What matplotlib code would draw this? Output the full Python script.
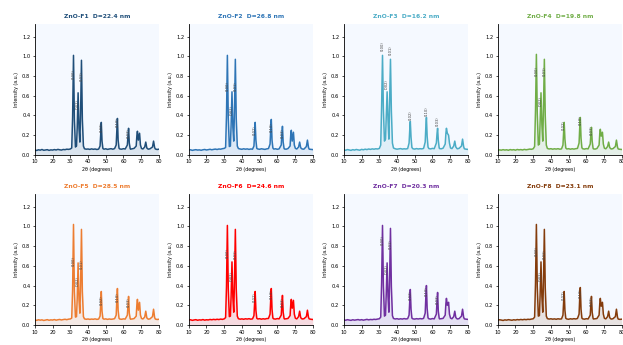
import matplotlib
matplotlib.use('Agg')
import matplotlib.pyplot as plt

# 2theta grid shared by all samples (degrees)
two_theta = [10, 11, 12, 13, 14, 15, 16, 17, 18, 19, 20, 21, 22, 23, 24, 25, 26, 27, 28, 29, 30,
             30.8, 31.3, 31.8, 32.3, 32.9, 33.5, 33.9, 34.4, 34.9, 35.4, 35.8, 36.3, 36.8, 37.4, 38,
             39, 40, 41, 42, 43, 44, 45, 46,
             46.8, 47.2, 47.5, 47.9, 48.4,
             49, 50, 51, 52, 53, 54, 55,
             55.9, 56.3, 56.6, 57.0, 57.5,
             58, 59, 60, 61,
             62.2, 62.6, 62.9, 63.3, 63.8,
             64, 65, 66,
             67.2, 67.6, 67.9, 68.4, 69.1, 69.6, 70.2,
             71,
             72.0, 72.6, 73.2,
             74, 75,
             76.4, 77.0, 77.6,
             78, 79, 80]

# normalised intensities
f1 = [0.050, 0.045, 0.052, 0.048, 0.055, 0.047, 0.050, 0.053, 0.046, 0.051, 0.049, 0.054, 0.050, 0.056, 0.052, 0.049, 0.055, 0.053, 0.058, 0.056, 0.060,
      0.070, 0.38, 1.01, 0.36, 0.080, 0.090, 0.28, 0.63, 0.27, 0.13, 0.42, 0.96, 0.36, 0.090, 0.062,
      0.058, 0.060, 0.056, 0.061, 0.057, 0.060, 0.055, 0.059,
      0.090, 0.22, 0.33, 0.14, 0.065,
      0.058, 0.062, 0.056, 0.060, 0.063, 0.058, 0.064,
      0.10, 0.26, 0.37, 0.15, 0.068,
      0.060, 0.058, 0.063, 0.060,
      0.10, 0.20, 0.27, 0.12, 0.065,
      0.058, 0.062, 0.066,
      0.090, 0.20, 0.24, 0.15, 0.22, 0.10, 0.065,
      0.060,
      0.080, 0.13, 0.070,
      0.058, 0.062,
      0.080, 0.14, 0.075,
      0.060, 0.055, 0.058]
f2 = [0.048, 0.052, 0.046, 0.050, 0.053, 0.049, 0.051, 0.047, 0.052, 0.055, 0.050, 0.053, 0.057, 0.052, 0.056, 0.059, 0.055, 0.060, 0.058, 0.063, 0.066,
      0.075, 0.40, 1.01, 0.38, 0.085, 0.090, 0.30, 0.64, 0.28, 0.14, 0.44, 0.97, 0.37, 0.090, 0.065,
      0.060, 0.057, 0.062, 0.058, 0.061, 0.056, 0.060, 0.058,
      0.090, 0.23, 0.33, 0.15, 0.066,
      0.060, 0.057, 0.062, 0.059, 0.056, 0.061, 0.064,
      0.11, 0.27, 0.36, 0.15, 0.070,
      0.059, 0.062, 0.057, 0.061,
      0.10, 0.22, 0.29, 0.13, 0.066,
      0.060, 0.058, 0.064,
      0.090, 0.21, 0.25, 0.14, 0.23, 0.10, 0.066,
      0.060,
      0.080, 0.13, 0.072,
      0.060, 0.058,
      0.085, 0.15, 0.075,
      0.058, 0.056, 0.054]
f3 = [0.052, 0.047, 0.054, 0.050, 0.046, 0.053, 0.049, 0.055, 0.051, 0.048, 0.056, 0.052, 0.058, 0.054, 0.060, 0.056, 0.061, 0.058, 0.062, 0.060, 0.065,
      0.10, 0.50, 1.01, 0.46, 0.14, 0.16, 0.38, 0.64, 0.36, 0.16, 0.52, 0.97, 0.45, 0.12, 0.070,
      0.062, 0.058, 0.061, 0.064, 0.059, 0.062, 0.060, 0.064,
      0.12, 0.26, 0.34, 0.18, 0.075,
      0.062, 0.059, 0.064, 0.060, 0.063, 0.061, 0.066,
      0.13, 0.30, 0.38, 0.19, 0.080,
      0.064, 0.061, 0.066, 0.063,
      0.12, 0.22, 0.27, 0.15, 0.072,
      0.064, 0.062, 0.068,
      0.11, 0.22, 0.27, 0.22, 0.20, 0.12, 0.070,
      0.064,
      0.090, 0.14, 0.080,
      0.062, 0.066,
      0.090, 0.16, 0.085,
      0.062, 0.058, 0.056]
f4 = [0.046, 0.051, 0.048, 0.053, 0.049, 0.052, 0.047, 0.054, 0.050, 0.053, 0.048, 0.055, 0.051, 0.054, 0.050, 0.056, 0.052, 0.055, 0.059, 0.057, 0.062,
      0.085, 0.45, 1.02, 0.42, 0.10, 0.11, 0.33, 0.63, 0.31, 0.14, 0.47, 0.97, 0.40, 0.10, 0.066,
      0.060, 0.063, 0.058, 0.062, 0.059, 0.063, 0.058, 0.061,
      0.10, 0.24, 0.33, 0.16, 0.070,
      0.060, 0.063, 0.058, 0.062, 0.059, 0.063, 0.066,
      0.12, 0.29, 0.38, 0.17, 0.072,
      0.062, 0.059, 0.064, 0.061,
      0.11, 0.22, 0.28, 0.14, 0.068,
      0.061, 0.059, 0.065,
      0.10, 0.22, 0.26, 0.19, 0.23, 0.11, 0.068,
      0.062,
      0.085, 0.13, 0.074,
      0.060, 0.063,
      0.085, 0.15, 0.078,
      0.060, 0.057, 0.055]
f5 = [0.051, 0.047, 0.053, 0.049, 0.052, 0.046, 0.050, 0.054, 0.048, 0.052, 0.050, 0.055, 0.049, 0.053, 0.056, 0.051, 0.055, 0.058, 0.054, 0.059, 0.061,
      0.070, 0.36, 1.02, 0.34, 0.080, 0.085, 0.27, 0.63, 0.26, 0.12, 0.40, 0.97, 0.34, 0.085, 0.062,
      0.058, 0.061, 0.057, 0.060, 0.058, 0.062, 0.057, 0.060,
      0.090, 0.22, 0.34, 0.14, 0.066,
      0.059, 0.062, 0.057, 0.061, 0.058, 0.060, 0.064,
      0.10, 0.27, 0.37, 0.15, 0.068,
      0.060, 0.058, 0.062, 0.060,
      0.10, 0.21, 0.29, 0.12, 0.066,
      0.059, 0.061, 0.065,
      0.090, 0.21, 0.26, 0.15, 0.23, 0.10, 0.066,
      0.061,
      0.080, 0.14, 0.072,
      0.059, 0.062,
      0.085, 0.16, 0.076,
      0.060, 0.056, 0.058]
f6 = [0.049, 0.053, 0.047, 0.051, 0.054, 0.048, 0.052, 0.050, 0.055, 0.049, 0.053, 0.051, 0.056, 0.053, 0.057, 0.054, 0.058, 0.055, 0.060, 0.057, 0.062,
      0.075, 0.39, 1.01, 0.37, 0.085, 0.090, 0.29, 0.64, 0.28, 0.13, 0.43, 0.97, 0.37, 0.090, 0.064,
      0.059, 0.062, 0.058, 0.063, 0.060, 0.064, 0.059, 0.062,
      0.095, 0.23, 0.34, 0.15, 0.068,
      0.061, 0.064, 0.059, 0.063, 0.060, 0.065, 0.066,
      0.11, 0.27, 0.37, 0.16, 0.070,
      0.062, 0.060, 0.065, 0.062,
      0.10, 0.22, 0.30, 0.13, 0.068,
      0.061, 0.063, 0.066,
      0.095, 0.21, 0.26, 0.17, 0.25, 0.11, 0.068,
      0.062,
      0.085, 0.14, 0.074,
      0.061, 0.063,
      0.085, 0.15, 0.077,
      0.062, 0.058, 0.056]
f7 = [0.052, 0.048, 0.054, 0.050, 0.047, 0.053, 0.049, 0.052, 0.055, 0.050, 0.054, 0.049, 0.053, 0.057, 0.052, 0.056, 0.054, 0.058, 0.056, 0.060, 0.063,
      0.080, 0.43, 1.01, 0.40, 0.090, 0.10, 0.31, 0.63, 0.29, 0.13, 0.45, 0.98, 0.39, 0.095, 0.066,
      0.061, 0.064, 0.059, 0.063, 0.060, 0.065, 0.061, 0.064,
      0.10, 0.25, 0.36, 0.16, 0.070,
      0.062, 0.060, 0.064, 0.061, 0.065, 0.062, 0.067,
      0.12, 0.30, 0.40, 0.17, 0.072,
      0.063, 0.060, 0.065, 0.062,
      0.11, 0.25, 0.33, 0.14, 0.070,
      0.062, 0.064, 0.067,
      0.10, 0.22, 0.27, 0.20, 0.23, 0.11, 0.070,
      0.063,
      0.085, 0.14, 0.075,
      0.061, 0.064,
      0.090, 0.16, 0.080,
      0.062, 0.059, 0.057]
f8 = [0.048, 0.053, 0.050, 0.046, 0.052, 0.049, 0.054, 0.051, 0.048, 0.053, 0.050, 0.055, 0.052, 0.056, 0.053, 0.057, 0.054, 0.058, 0.056, 0.060, 0.063,
      0.080, 0.42, 1.02, 0.39, 0.090, 0.095, 0.30, 0.64, 0.29, 0.13, 0.44, 0.97, 0.38, 0.090, 0.065,
      0.060, 0.063, 0.059, 0.062, 0.058, 0.063, 0.060, 0.062,
      0.10, 0.24, 0.34, 0.15, 0.068,
      0.061, 0.058, 0.063, 0.060, 0.064, 0.061, 0.066,
      0.11, 0.29, 0.38, 0.16, 0.070,
      0.062, 0.059, 0.064, 0.061,
      0.10, 0.22, 0.29, 0.13, 0.068,
      0.061, 0.063, 0.066,
      0.10, 0.22, 0.27, 0.19, 0.23, 0.11, 0.068,
      0.062,
      0.085, 0.14, 0.074,
      0.060, 0.063,
      0.085, 0.16, 0.078,
      0.060, 0.057, 0.059]

samples = ['ZnO-F1', 'ZnO-F2', 'ZnO-F3', 'ZnO-F4', 'ZnO-F5', 'ZnO-F6', 'ZnO-F7', 'ZnO-F8']
crystallite = [22.4, 26.8, 16.2, 19.8, 28.5, 24.6, 20.3, 23.1]
colors = ['#1f4e79', '#2e75b6', '#4bacc6', '#70ad47', '#ed7d31', '#ff0000', '#7030a0', '#843c0c']
curves = [f1, f2, f3, f4, f5, f6, f7, f8]

# labelled reflections and where the label sits on each panel
hkl = ['(100)', '(002)', '(101)', '(102)', '(110)', '(103)']
hkl_pos = [31.8, 34.4, 36.3, 47.5, 56.6, 62.9]
label_y = [
    [0.82, 0.52, 0.80, 0.28, 0.33, 0.22],
    [0.70, 0.45, 0.70, 0.25, 0.28, 0.22],
    [1.10, 0.72, 1.06, 0.40, 0.44, 0.34],
    [0.85, 0.55, 0.85, 0.30, 0.35, 0.25],
    [0.65, 0.45, 0.62, 0.25, 0.28, 0.23],
    [0.73, 0.50, 0.72, 0.28, 0.31, 0.23],
    [0.86, 0.57, 0.82, 0.30, 0.34, 0.26],
    [0.75, 0.50, 0.72, 0.30, 0.32, 0.24],
]

fig = plt.figure(figsize=(6.23, 3.45), dpi=100)
lefts = [0.056, 0.303, 0.552, 0.799]
bottoms = [0.551, 0.058]
w, h = 0.199, 0.38

for i in range(8):
    ax = fig.add_axes([lefts[i % 4], bottoms[i // 4], w, h])
    ax.set_facecolor('#f5f9ff')
    c = colors[i]
    ax.fill_between(two_theta, 0, curves[i], color=c, alpha=0.12, linewidth=0)
    ax.plot(two_theta, curves[i], color=c, linewidth=1.1)
    for lab, x, y in zip(hkl, hkl_pos, label_y[i]):
        ax.text(x, y, lab, rotation=90, fontsize=2.6, color='#444444',
                ha='center', va='center')
    ax.set_xlim(10, 80)
    ax.set_ylim(0, 1.33)
    ax.set_xticks(range(10, 81, 10))
    ax.set_yticks([0.0, 0.2, 0.4, 0.6, 0.8, 1.0, 1.2])
    ax.set_title(f'{samples[i]}  D={crystallite[i]} nm', color=c,
                 fontsize=4.3, fontweight='bold', pad=4)
    ax.set_xlabel('2θ (degrees)', fontsize=3.4, labelpad=2)
    ax.set_ylabel('Intensity (a.u.)', fontsize=3.4, labelpad=2)
    ax.tick_params(labelsize=3.7, length=1.8, width=0.5, pad=1.5)
    ax.spines['top'].set_visible(False)
    ax.spines['right'].set_visible(False)
    for s in ['left', 'bottom']:
        ax.spines[s].set_linewidth(0.6)

plt.savefig('out.png', dpi=100)
